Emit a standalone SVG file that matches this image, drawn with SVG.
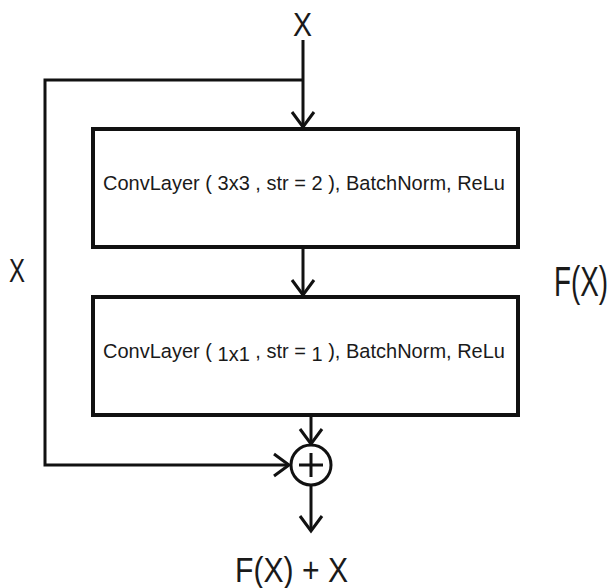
<svg xmlns="http://www.w3.org/2000/svg" width="615" height="588" viewBox="0 0 615 588">
<style>
.box{fill:#fff;stroke:#111;stroke-width:4}
.ln{fill:none;stroke:#111;stroke-width:3;stroke-linejoin:miter}
.t{font-family:"Liberation Sans",Arial,sans-serif;fill:#1a1a1a}
</style>
<defs>
<marker id="arr" markerUnits="userSpaceOnUse" markerWidth="40" markerHeight="40" viewBox="-20 -20 40 40" refX="0" refY="0" orient="auto">
<path d="M-15,-11 L0,0 L-15,11" fill="none" stroke="#111" stroke-width="3"/>
</marker>
</defs>
<rect width="615" height="588" fill="#fff"/>
<g id="connectors">
<line class="ln" x1="303" y1="40" x2="303" y2="127" marker-end="url(#arr)"/>
<polyline class="ln" points="303,80 45,80 45,465 289,465" marker-end="url(#arr)"/>
<line class="ln" x1="303" y1="247" x2="303" y2="295" marker-end="url(#arr)"/>
<line class="ln" x1="311" y1="415" x2="311" y2="444" marker-end="url(#arr)"/>
<line class="ln" x1="311" y1="485" x2="311" y2="531" marker-end="url(#arr)"/>
</g>
<g id="box1">
<rect class="box" x="93" y="129" width="425" height="118"/>
<text class="t" x="103" y="190" font-size="20.5" textLength="402" lengthAdjust="spacingAndGlyphs">ConvLayer ( 3x3 , str = 2 ), BatchNorm, ReLu</text>
</g>
<g id="box2">
<rect class="box" x="93" y="297" width="425" height="118"/>
<text class="t" x="103" y="358" font-size="20.5" textLength="402" lengthAdjust="spacingAndGlyphs">ConvLayer ( <tspan dy="3">1x1</tspan><tspan dy="-3"> , str = </tspan><tspan dy="3">1</tspan><tspan dy="-3"> ), BatchNorm, ReLu</tspan></text>
</g>
<g id="sum">
<circle cx="311" cy="465" r="20" fill="#fff" stroke="#111" stroke-width="3"/>
<path d="M299,465 H323 M311,453 V477" stroke="#111" stroke-width="3"/>
</g>
<g id="labels">
<text class="t" x="293" y="36" font-size="33" textLength="19" lengthAdjust="spacingAndGlyphs">X</text>
<text class="t" x="9" y="282" font-size="33" textLength="16" lengthAdjust="spacingAndGlyphs">X</text>
<text class="t" transform="translate(554,296) scale(0.96,1.45)" x="0" y="0" font-size="29">F(X)</text>
<text class="t" x="235" y="582" font-size="35" textLength="113" lengthAdjust="spacingAndGlyphs">F(X) + X</text>
</g>
</svg>
